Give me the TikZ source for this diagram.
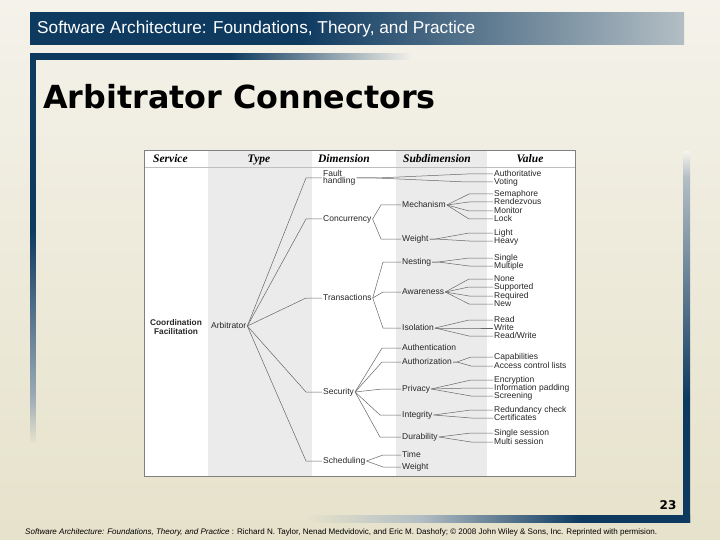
\documentclass[tikz,border=0pt]{standalone}
\usepackage{fontspec}
\setmainfont{Liberation Sans}
\newfontfamily\dejavu{DejaVu Sans}
\newfontfamily\tserif{Liberation Serif}
\definecolor{navy}{HTML}{0E3A60}
\definecolor{lgray}{HTML}{B3BEC4}
\definecolor{midgray}{HTML}{9AAAB5}
\definecolor{bgtop}{HTML}{F4F2EA}
\definecolor{bgbot}{HTML}{E6E2CB}
\definecolor{colgray}{HTML}{EBEBEB}
\definecolor{tborder}{HTML}{808080}
\pgfdeclarehorizontalshading{hdrshade}{100bp}{color(0bp)=(navy); color(45.6bp)=(navy); color(75bp)=(lgray); color(100bp)=(lgray)}
\pgfdeclarehorizontalshading{topshade}{100bp}{color(0bp)=(navy); color(51.1bp)=(navy); color(75bp)=(bgtop); color(100bp)=(bgtop)}
\pgfdeclareverticalshading{leftshade}{100bp}{color(0bp)=(bgbot); color(25bp)=(bgbot); color(31bp)=(midgray); color(52.3bp)=(navy); color(100bp)=(navy)}
\pgfdeclareverticalshading{rightshade}{100bp}{color(0bp)=(navy); color(41.5bp)=(navy); color(71.6bp)=(lgray); color(75bp)=(bgtop); color(100bp)=(bgtop)}
\pgfdeclarehorizontalshading{botshade}{100bp}{color(0bp)=(bgbot); color(25bp)=(bgbot); color(39.7bp)=(lgray); color(60.6bp)=(navy); color(100bp)=(navy)}
\begin{document}
\begin{tikzpicture}[x=1pt,y=-1pt,
  txt/.style={anchor=west,inner sep=1pt,font=\fontsize{8.5}{7.6}\selectfont,text=black!85},
  lbl/.style={txt,text height=6.1pt,text depth=1.8pt},
  conn/.style={draw=black!60,line width=0.5pt},
  colhead/.style={font=\tserif\bfseries\itshape\fontsize{11.5}{11.5}\selectfont,inner sep=0pt,anchor=base}]
\useasboundingbox (0,0) rectangle (720,540);
\shade[top color=bgtop,bottom color=bgbot] (0,0) rectangle (720,540);
% header bar
\shade[shading=hdrshade] (30,13) rectangle (684,45);
\node[anchor=west,text=white,inner sep=0pt] (hdrtext) at (37,29) {\resizebox{438pt}{!}{\fontsize{14}{14}\selectfont Software Architecture: Foundations, Theory, and Practice}};
% frame lines
\shade[shading=topshade] (30,54) rectangle (413,59.5);
\shade[shading=leftshade] (30,54) rectangle (35.5,442);
\shade[shading=rightshade] (683.5,152) rectangle (690,522);
\shade[shading=botshade] (308,515.5) rectangle (690,522);
% title
\node[anchor=west,inner sep=0pt] (title) at (43,97) {\dejavu\bfseries\fontsize{31.8}{30}\selectfont Arbitrator Connectors};
% table
\fill[white] (144,150) rectangle (575,476);
\fill[colgray] (208,150) rectangle (312,476);
\fill[colgray] (396,150) rectangle (487,476);
\draw[black!25] (144,167.5) -- (575,167.5);
\draw[tborder,line width=0.8pt] (144,150) rectangle (575,476);
\node[colhead,anchor=base west] (hService) at (153,163) {Service};
\node[colhead] (hType) at (259,163) {Type};
\node[colhead] (hDim) at (344,163) {Dimension};
\node[colhead] (hSub) at (437,163) {Subdimension};
\node[colhead] (hVal) at (530,163) {Value};
% service and type
\node[txt,anchor=center,align=center,font=\bfseries\fontsize{8.3}{9}\selectfont] (cf) at (176,327.5) {Coordination\\Facilitation};
\node[lbl] (arb) at (210,326) {Arbitrator};
% dimensions
\node[txt,align=left] (fault) at (322,178) {Fault\\handling};
\node[lbl] (conc) at (322,219) {Concurrency};
\node[lbl] (trans) at (322,298) {Transactions};
\node[lbl] (sec) at (322,392) {Security};
\node[lbl] (sched) at (322,461) {Scheduling};
% subdimensions
\node[lbl] (mech) at (401,205) {Mechanism};
\node[lbl] (wta) at (401,239) {Weight};
\node[lbl] (nest) at (401,262) {Nesting};
\node[lbl] (aware) at (401,292) {Awareness};
\node[lbl] (iso) at (401,328) {Isolation};
\node[lbl] (authn) at (401,348) {Authentication};
\node[lbl] (authz) at (401,362) {Authorization};
\node[lbl] (priv) at (401,389) {Privacy};
\node[lbl] (integ) at (401,415) {Integrity};
\node[lbl] (dur) at (401,437) {Durability};
\node[lbl] (time) at (401,455) {Time};
\node[lbl] (wtb) at (401,467) {Weight};
% values
\node[lbl] (vauth) at (493,174) {Authoritative};
\node[lbl] (vvote) at (493,182) {Voting};
\node[lbl] (vsema) at (493,194) {Semaphore};
\node[lbl] (vrend) at (493,202) {Rendezvous};
\node[lbl] (vmon) at (493,211) {Monitor};
\node[lbl] (vlock) at (493,219) {Lock};
\node[lbl] (vlight) at (493,233) {Light};
\node[lbl] (vheavy) at (493,241) {Heavy};
\node[lbl] (vsingle) at (493,258) {Single};
\node[lbl] (vmult) at (493,266) {Multiple};
\node[lbl] (vnone) at (493,279) {None};
\node[lbl] (vsupp) at (493,287) {Supported};
\node[lbl] (vreq) at (493,296) {Required};
\node[lbl] (vnew) at (493,304) {New};
\node[lbl] (vread) at (493,320) {Read};
\node[lbl] (vwrite) at (493,328) {Write};
\node[lbl] (vrw) at (493,336) {Read/Write};
\node[lbl] (vcap) at (493,357) {Capabilities};
\node[lbl] (vacl) at (493,366) {Access control lists};
\node[lbl] (venc) at (493,380) {Encryption};
\node[lbl] (vpad) at (493,388) {Information padding};
\node[lbl] (vscr) at (493,396) {Screening};
\node[lbl] (vred) at (493,410) {Redundancy check};
\node[lbl] (vcert) at (493,418) {Certificates};
\node[lbl] (vss) at (493,433) {Single session};
\node[lbl] (vms) at (493,442) {Multi session};
% arbitrator -> dimensions
\foreach \d in {fault,conc,trans,sec,sched}
  \draw[conn] (arb.east) -- ([xshift=-16pt]\d.west) -- (\d.west);
% dimensions -> subdimensions
\foreach \s in {mech,wta}
  \draw[conn] (conc.east) -- ([xshift=-20pt]\s.west) -- (\s.west);
\foreach \s in {nest,aware,iso}
  \draw[conn] (trans.east) -- ([xshift=-18pt]\s.west) -- (\s.west);
\foreach \s in {authn,authz,priv}
  \draw[conn] (sec.east) -- ([xshift=-19pt]\s.west) -- (\s.west);
\foreach \s in {integ,dur}
  \draw[conn] (sec.east) -- ([xshift=-21pt]\s.west) -- (\s.west);
\foreach \s in {time,wtb}
  \draw[conn] (sched.east) -- ([xshift=-18pt]\s.west) -- (\s.west);
% subdimensions -> values
\foreach \v in {vauth,vvote}
  \draw[conn] (fault.east) -- ++(20,0) -- ([xshift=-26pt]\v.west) -- (\v.west);
\foreach \v in {vsema,vrend,vmon,vlock}
  \draw[conn] (mech.east) -- ([xshift=-24pt]\v.west) -- (\v.west);
\foreach \v in {vlight,vheavy}
  \draw[conn] (wta.east) -- ++(6,0) -- ([xshift=-24pt]\v.west) -- (\v.west);
\foreach \v in {vsingle,vmult}
  \draw[conn] (nest.east) -- ++(6,0) -- ([xshift=-24pt]\v.west) -- (\v.west);
\foreach \v in {vnone,vsupp,vreq,vnew}
  \draw[conn] (aware.east) -- ([xshift=-24pt]\v.west) -- (\v.west);
\foreach \v in {vread,vwrite,vrw}
  \draw[conn] (iso.east) -- ([xshift=-24pt]\v.west) -- (\v.west);
\foreach \v in {vcap,vacl}
  \draw[conn] (authz.east) -- ++(4,0) -- ([xshift=-22pt]\v.west) -- (\v.west);
\foreach \v in {venc,vpad,vscr}
  \draw[conn] (priv.east) -- ([xshift=-22pt]\v.west) -- (\v.west);
\foreach \v in {vred,vcert}
  \draw[conn] (integ.east) -- ([xshift=-22pt]\v.west) -- (\v.west);
\foreach \v in {vss,vms}
  \draw[conn] (dur.east) -- ([xshift=-22pt]\v.west) -- (\v.west);
% page number and footer
\node[inner sep=0pt] (pnum) at (668,505) {\dejavu\bfseries\fontsize{12}{12}\selectfont 23};
\node[anchor=west,inner sep=0pt] (footer) at (25,532) {\resizebox{632pt}{!}{\fontsize{7}{7}\selectfont \textit{Software Architecture: Foundations, Theory, and Practice} : Richard N. Taylor, Nenad Medvidovic, and Eric M. Dashofy; \textcopyright{} 2008 John Wiley \& Sons, Inc. Reprinted with permision.}};
\end{tikzpicture}
\end{document}
